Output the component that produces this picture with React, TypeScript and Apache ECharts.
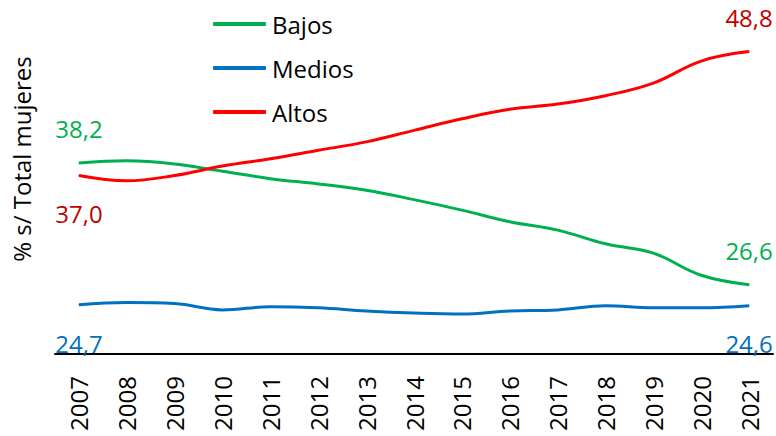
import React, { useEffect, useRef } from "react";
import * as echarts from "echarts";

const years = ["2007","2008","2009","2010","2011","2012","2013","2014","2015","2016","2017","2018","2019","2020","2021"];
const bajos = [38.2, 38.4, 38.1, 37.4, 36.7, 36.2, 35.6, 34.7, 33.7, 32.6, 31.8, 30.5, 29.6, 27.5, 26.6];
const medios = [24.7, 24.9, 24.8, 24.2, 24.5, 24.4, 24.1, 23.9, 23.8, 24.1, 24.2, 24.6, 24.4, 24.4, 24.6];
const altos = [37.0, 36.5, 37.0, 37.9, 38.6, 39.4, 40.2, 41.3, 42.4, 43.3, 43.8, 44.6, 45.8, 47.9, 48.8];

const FONT = "Open Sans";

function withEndLabels(values: number[], color: string, firstOffset: number, lastOffset: number) {
  const last = values.length - 1;
  return values.map((v, i) => {
    if (i !== 0 && i !== last) return v;
    return {
      value: v,
      label: {
        show: true,
        position: "inside",
        offset: [0, i === 0 ? firstOffset : lastOffset],
        color,
        fontFamily: FONT,
        fontSize: 24,
        formatter: (p: any) => Number(p.value).toFixed(1).replace(".", ","),
      },
    };
  });
}

export default function App() {
  const ref = useRef<HTMLDivElement>(null);
  useEffect(() => {
    if (!ref.current) return;
    const chart = echarts.init(ref.current, undefined, { renderer: "svg" });
    const lineSeries = (name: string, data: any[], color: string) => ({
      name,
      type: "line",
      data,
      smooth: 0.4,
      symbol: "circle",
      symbolSize: 1,
      showSymbol: true,
      itemStyle: { color },
      lineStyle: { color, width: 3 },
      label: { show: false },
      z: 2,
    });
    chart.setOption({
      animation: false,
      backgroundColor: "#ffffff",
      textStyle: { fontFamily: FONT },
      grid: { left: 55, right: 3, top: 39, bottom: 82, containLabel: false },
      legend: {
        orient: "vertical",
        left: 213,
        top: 9,
        padding: 0,
        itemWidth: 53,
        itemHeight: 4,
        itemGap: 14,
        icon: "roundRect",
        textStyle: { fontFamily: FONT, fontSize: 24, color: "#000", lineHeight: 30, padding: [0, 0, 0, 1] },
        data: ["Bajos", "Medios", "Altos"],
      },
      xAxis: {
        type: "category",
        data: years,
        boundaryGap: true,
        axisLine: { show: true, lineStyle: { color: "#000", width: 2 } },
        axisTick: { show: false },
        axisLabel: { rotate: 90, margin: 22, fontFamily: FONT, fontSize: 24, color: "#000", interval: 0 },
        splitLine: { show: false },
      },
      yAxis: {
        type: "value",
        min: 20,
        max: 50,
        show: true,
        axisLine: { show: false },
        axisTick: { show: false },
        axisLabel: { show: false },
        splitLine: { show: false },
      },
      graphic: [
        {
          type: "text",
          x: 21,
          y: 159,
          rotation: Math.PI / 2,
          style: {
            text: "% s/ Total mujeres",
            fontFamily: FONT,
            fontSize: 24,
            fill: "#000",
            align: "center",
            verticalAlign: "middle",
          },
        },
      ],
      series: [
        lineSeries("Bajos", withEndLabels(bajos, "#00B050", -34, -34), "#00B050"),
        lineSeries("Medios", withEndLabels(medios, "#0070C0", 39, 38), "#0070C0"),
        lineSeries("Altos", withEndLabels(altos, "#C00000", 38, -34), "#FF0000"),
      ],
    });
    return () => chart.dispose();
  }, []);
  return <div ref={ref} style={{ width: 776, height: 436, position: "absolute", left: 0, top: 0 }} />;
}
